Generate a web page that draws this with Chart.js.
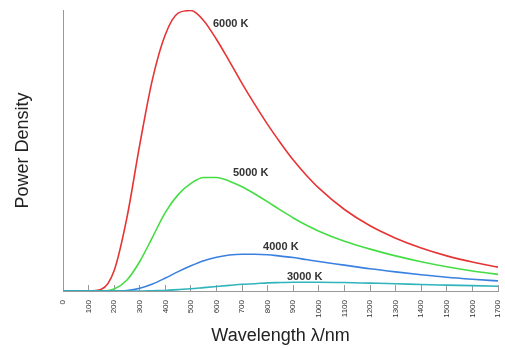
<!DOCTYPE html>
<html>
<head>
<meta charset="utf-8">
<script src="https://cdn.jsdelivr.net/npm/chart.js@4.4.1/dist/chart.umd.min.js"></script>
<style>
  html, body { margin: 0; padding: 0; background: #fff; }
  #wrap { width: 505px; height: 349px; }
</style>
</head>
<body>
<div id="wrap"><canvas id="bbChart" width="505" height="349"></canvas></div>
<script>
// wavelength (nm) and relative power density
const wavelengths = [0, 50, 100, 150, 200, 250, 300, 350, 400, 450, 500, 550, 600, 650, 700, 750, 800, 850, 900, 950, 1000, 1100, 1200, 1300, 1400, 1500, 1600, 1700];
const power6000 = [0, 0, 0, 0.6, 7.3, 26.2, 52.1, 75.5, 91.3, 98.9, 99.8, 96.2, 89.5, 81.8, 73.8, 66.3, 59.2, 52.7, 46.6, 41.3, 36.6, 29.0, 23.2, 18.8, 15.3, 12.5, 10.3, 8.5];
const power5000 = [0, 0, 0, 0, 0.7, 3.9, 10.5, 19.2, 28.0, 34.3, 38.3, 40.4, 40.4, 39.1, 37.1, 34.5, 31.7, 28.8, 26.0, 23.5, 21.3, 17.7, 14.9, 12.5, 10.4, 8.6, 7.1, 5.9];
const power4000 = [0, 0, 0, 0, 0, 0.2, 1.0, 2.5, 4.6, 6.9, 9.0, 10.8, 12.0, 12.8, 13.1, 13.1, 12.9, 12.4, 11.9, 11.2, 10.5, 9.2, 7.9, 6.8, 5.8, 4.9, 4.2, 3.6];
const power3000 = [0, 0, 0, 0, 0, 0, 0, 0.1, 0.2, 0.5, 0.8, 1.2, 1.6, 2.0, 2.4, 2.6, 2.9, 3.0, 3.1, 3.1, 3.1, 3.0, 2.8, 2.6, 2.3, 2.1, 1.9, 1.7];

// curve labels (text, wavelength, power)
const curveLabels = ['6000 K', '5000 K', '4000 K', '3000 K'];
const labelX = [586, 664, 782, 875];
const labelY = [95.2, 42.0, 15.7, 5.0];

function toPoints(arr) {
    return wavelengths.map(function(w, i) { return { x: w, y: arr[i] }; });
}

function lineSet(label, arr, color) {
    return {
        label: label,
        data: toPoints(arr),
        borderColor: color,
        borderWidth: 1.6,
        pointRadius: 0,
        fill: false,
        cubicInterpolationMode: 'monotone'
    };
}

// draws the temperature labels next to each curve
const curveLabelPlugin = {
    id: 'curveLabels',
    afterDatasetsDraw: function(chart) {
        const ctx = chart.ctx;
        const xs = chart.scales.x;
        const ys = chart.scales.y;
        ctx.save();
        ctx.font = 'bold 11px "Liberation Sans", Arial, sans-serif';
        ctx.fillStyle = '#333';
        ctx.textAlign = 'left';
        ctx.textBaseline = 'middle';
        curveLabels.forEach(function(t, i) {
            ctx.fillText(t, xs.getPixelForValue(labelX[i]), ys.getPixelForValue(labelY[i]));
        });
        ctx.restore();
    }
};

const ctx = document.getElementById('bbChart').getContext('2d');
new Chart(ctx, {
    type: 'line',
    data: {
        datasets: [
            lineSet('3000 K', power3000, '#30b4bc'),
            lineSet('4000 K', power4000, '#3a80e0'),
            lineSet('5000 K', power5000, '#44dd44'),
            lineSet('6000 K', power6000, '#e63434')
        ]
    },
    options: {
        responsive: false,
        animation: false,
        layout: { padding: { top: 10, right: 7, left: 0, bottom: 0 } },
        plugins: {
            legend: { display: false },
            tooltip: { enabled: false }
        },
        scales: {
            x: {
                type: 'linear',
                min: 0,
                max: 1700,
                afterFit: function(s) {
                    s.height = 58;
                    s.paddingLeft = 0;
                    s.paddingRight = 0;
                },
                border: { display: true, color: '#999', width: 1 },
                grid: { display: true, drawOnChartArea: false, drawTicks: true, tickLength: -6, color: '#999' },
                ticks: {
                    stepSize: 100,
                    autoSkip: false,
                    maxRotation: 90,
                    minRotation: 90,
                    padding: 15,
                    color: '#333',
                    font: { family: '"Liberation Sans", Arial, sans-serif', size: 8 },
                    callback: function(value) { return String(value); }
                },
                title: {
                    display: true,
                    text: 'Wavelength λ/nm',
                    color: '#222',
                    padding: { top: 0, bottom: 2 },
                    font: { family: '"Liberation Sans", Arial, sans-serif', size: 18 }
                }
            },
            y: {
                min: 0,
                max: 100,
                afterFit: function(s) { s.width = 63; },
                border: { display: true, color: '#999', width: 1 },
                grid: { display: false },
                ticks: { display: false },
                title: {
                    display: true,
                    text: 'Power Density',
                    color: '#222',
                    padding: { top: 12, bottom: 0 },
                    font: { family: '"Liberation Sans", Arial, sans-serif', size: 18 }
                }
            }
        }
    },
    plugins: [curveLabelPlugin]
});
</script>
</body>
</html>
